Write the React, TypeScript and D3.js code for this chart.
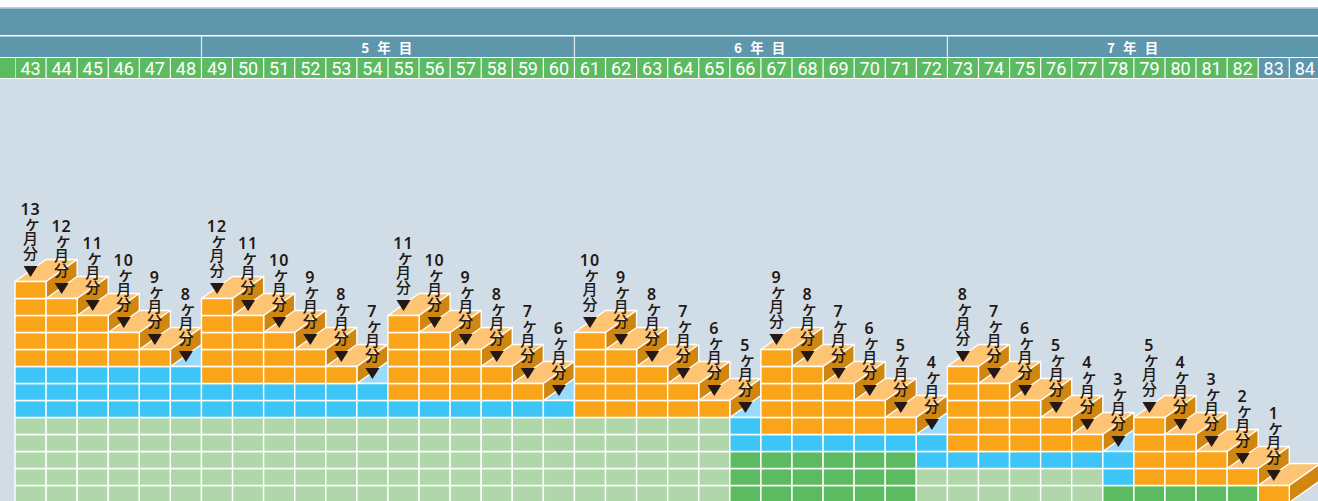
import * as d3 from "d3";

const months = d3.range(43, 85);
// number of cells per layer in each column, from the bottom up (months 43..84)
const darkGreen = [
  0, 0, 0, 0, 0, 0, 0, 0, 0, 0, 0, 0, 0, 0, 0, 0, 0, 0, 0, 0, 0, 0, 0, 3, 3, 3, 3, 3, 3, 0, 0, 0, 0, 0, 0, 1, 1, 1,
  1, 1, 0, 0,
];
const lightGreen = [
  5, 5, 5, 5, 5, 5, 5, 5, 5, 5, 5, 5, 5, 5, 5, 5, 5, 5, 5, 5, 5, 5, 5, 0, 0, 0, 0, 0, 0, 2, 2, 2, 2, 2, 2, 0, 0, 0,
  0, 0, 0, 0,
];
const blue = [
  3, 3, 3, 3, 3, 3, 2, 2, 2, 2, 2, 2, 1, 1, 1, 1, 1, 1, 0, 0, 0, 0, 0, 2, 1, 1, 1, 1, 1, 2, 1, 1, 1, 1, 1, 2, 0, 0,
  0, 0, 0, 0,
];
const totals = [
  13, 12, 11, 10, 9, 8, 12, 11, 10, 9, 8, 7, 11, 10, 9, 8, 7, 6, 10, 9, 8, 7, 6, 5, 9, 8, 7, 6, 5, 4, 8, 7, 6, 5, 4,
  3, 5, 4, 3, 2, 1, 0,
];
const unitPrefix = "ヶ";
const unitLabel = "月分";
const yearLabels = ["5 年 目", "6 年 目", "7 年 目"];
const yearStarts = [49, 61, 73];
const blueHeaderMonths = [83, 84];

const COLORS = {
  bg: "#d0dde6",
  header: "#5e96ac",
  headerGreen: "#5cbb60",
  darkGreen: "#5cbb60",
  lightGreen: "#afd7a9",
  blue: "#3cc5f6",
  blueTop: "#9adafb",
  orange: "#faa41a",
  orangeTop: "#fdc473",
  side: "#d0860f",
  ink: "#231815",
};

const width = 1318;
const height = 501;
const x = d3.scaleLinear().domain([43, 85]).range([15, 15 + 42 * 31.08]);
const y = d3.scaleLinear().domain([0, 1]).range([502.5, 485.5]);
const depthY = 22;
const poly = d3.line();

function Column({ i }: { i: number }) {
  const m = months[i];
  const total = totals[i];
  if (total === 0) return null;
  const x0 = x(m);
  const x1 = x(m + 1);
  const x2 = x(m + 2);
  const top = y(total);
  const dg = darkGreen[i];
  const lg = lightGreen[i];
  const bl = blue[i];
  const cells = d3.range(total).map((level) => {
    let fill = COLORS.orange;
    if (level < dg) fill = COLORS.darkGreen;
    else if (level < dg + lg) fill = COLORS.lightGreen;
    else if (level < dg + lg + bl) fill = COLORS.blue;
    return { level, fill };
  });
  const topFill = dg + lg + bl === total ? COLORS.blueTop : COLORS.orangeTop;
  const stroke = { stroke: "#fff", strokeWidth: 1.4, strokeLinejoin: "round" as const };
  return (
    <g>
      <path
        d={poly([[x0, top], [x1, top], [x2, top - depthY], [x1, top - depthY]])! + "Z"}
        fill={topFill}
        {...stroke}
      />
      <path
        d={poly([[x1, top], [x2, top - depthY], [x2, y(0) - depthY], [x1, y(0)]])! + "Z"}
        fill={COLORS.side}
        {...stroke}
      />
      {cells.map((c) => (
        <rect
          key={c.level}
          x={x0}
          y={y(c.level + 1)}
          width={x1 - x0}
          height={y(c.level) - y(c.level + 1)}
          fill={c.fill}
          {...stroke}
        />
      ))}
    </g>
  );
}

function Label({ i }: { i: number }) {
  const total = totals[i];
  if (total === 0) return null;
  const cx = (x(months[i]) + x(months[i] + 1)) / 2;
  const top = y(total);
  return (
    <g fill={COLORS.ink}>
      <text
        x={cx}
        y={top - 72.5}
        textAnchor="middle"
        dominantBaseline="central"
        fontFamily="'Noto Sans', sans-serif"
        fontSize={16}
        fontWeight={600}
        letterSpacing={1}
      >
        {total}
      </text>
      <text
        x={cx}
        y={top - 65.5}
        fontFamily="'Noto Sans CJK JP', sans-serif"
        fontSize={15}
        fontWeight={500}
        style={{ writingMode: "vertical-rl" }}
      >
        <tspan fontSize={18} letterSpacing={-3.5}>
          {unitPrefix}
        </tspan>
        {unitLabel}
      </text>
      <path d={poly([[cx - 7, top - 15.5], [cx + 7, top - 15.5], [cx, top - 4.5]])! + "Z"} />
    </g>
  );
}

export default function App() {
  return (
    <svg
      width={width}
      height={height}
      viewBox={`0 0 ${width} ${height}`}
      style={{ position: "absolute", left: 0, top: 0, display: "block", background: "#fff" }}
    >
      <rect x={0} y={7} width={width} height={1.5} fill="#b7cfd8" />
      <rect x={0} y={8.5} width={width} height={26.5} fill={COLORS.header} />
      <rect x={0} y={36.5} width={width} height={20.5} fill={COLORS.header} />
      {yearStarts.map((s, k) => (
        <g key={s}>
          <line x1={x(s)} x2={x(s)} y1={36} y2={58} stroke="#d9e6ea" strokeWidth={1.3} />
          <text
            x={x(s + 6)}
            y={46.5}
            fill="#fff"
            textAnchor="middle"
            dominantBaseline="central"
            fontFamily="'Noto Sans CJK JP', sans-serif"
            fontSize={13.5}
            fontWeight={700}
            letterSpacing={2.5}
          >
            {yearLabels[k]}
          </text>
        </g>
      ))}
      <rect x={0} y={58} width={x(43)} height={20} fill={COLORS.headerGreen} />
      {months.map((m) => (
        <g key={m}>
          <rect
            x={x(m) + 0.6}
            y={58}
            width={x(m + 1) - x(m) - 1.2}
            height={20}
            fill={blueHeaderMonths.includes(m) ? COLORS.header : COLORS.headerGreen}
          />
          <text
            x={(x(m) + x(m + 1)) / 2}
            y={68}
            fill="#fff"
            textAnchor="middle"
            dominantBaseline="central"
            fontFamily="Roboto, sans-serif"
            fontSize={18}
          >
            {m}
          </text>
        </g>
      ))}
      <rect x={0} y={79} width={width} height={height - 79} fill={COLORS.bg} />
      {months.map((_, i) => (
        <Column key={i} i={i} />
      ))}
      {months.map((_, i) => (
        <Label key={i} i={i} />
      ))}
    </svg>
  );
}
